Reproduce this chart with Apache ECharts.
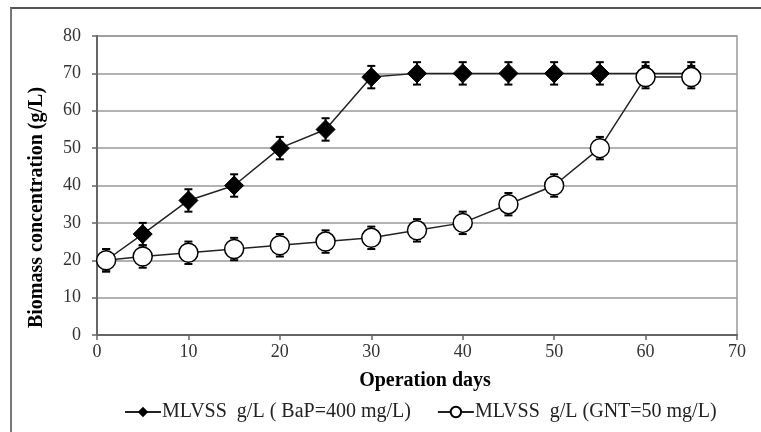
<!DOCTYPE html>
<html>
<head>
<meta charset="utf-8">
<script src="https://cdn.jsdelivr.net/npm/echarts@6/dist/echarts.min.js"></script>
<style>
  html, body { margin: 0; padding: 0; background: #fff; }
  #frame {
    position: absolute; left: 10px; top: 7px; width: 751px; height: 425px;
    border-top: 2px solid #555; border-left: 2px solid #777;
  }
  #chart { position: absolute; left: 0; top: 0; width: 761px; height: 432px; }
</style>
</head>
<body>
<div id="frame"></div>
<div id="chart"></div>
<script>
// operation days
const days = [1, 5, 10, 15, 20, 25, 30, 35, 40, 45, 50, 55, 60, 65];
// MLVSS g/L (BaP=400 mg/L)
const bapValues = [20, 27, 36, 40, 50, 55, 69, 70, 70, 70, 70, 70, 70, 70];
// MLVSS g/L (GNT=50 mg/L)
const gntValues = [20, 21, 22, 23, 24, 25, 26, 28, 30, 35, 40, 50, 69, 69];
// error bar half widths
const bapErr = [3, 3, 3, 3, 3, 3, 3, 3, 3, 3, 3, 3, 3, 3];
const gntErr = [3, 3, 3, 3, 3, 3, 3, 3, 3, 3, 3, 3, 3, 3];

const font = 'Liberation Serif, Times New Roman, serif';

function errData(vals, errs) {
  return days.map((d, i) => [d, vals[i] - errs[i], vals[i] + errs[i]]);
}

function errRender(params, api) {
  const x = api.value(0);
  const lo = api.coord([x, api.value(1)]);
  const hi = api.coord([x, api.value(2)]);
  const w = 4;
  const style = { stroke: '#000', lineWidth: 2 };
  return {
    type: 'group',
    children: [
      { type: 'line', shape: { x1: lo[0], y1: lo[1], x2: hi[0], y2: hi[1] }, style },
      { type: 'line', shape: { x1: lo[0] - w, y1: lo[1], x2: lo[0] + w, y2: lo[1] }, style },
      { type: 'line', shape: { x1: hi[0] - w, y1: hi[1], x2: hi[0] + w, y2: hi[1] }, style }
    ]
  };
}

const chart = echarts.init(document.getElementById('chart'));
chart.setOption({
  animation: false,
  textStyle: { fontFamily: font },
  grid: { left: 97, top: 36, right: 24, bottom: 97, show: true, borderColor: '#999', borderWidth: 1.5 },
  xAxis: {
    type: 'value', min: 0, max: 70, interval: 10,
    name: 'Operation days', nameLocation: 'middle', nameGap: 36,
    nameTextStyle: { fontFamily: font, fontSize: 20, fontWeight: 'bold', color: '#000', padding: [0, 0, 0, 16] },
    axisLine: { lineStyle: { color: '#666', width: 2 } },
    axisTick: { show: true, length: 5, lineStyle: { color: '#666', width: 1.5 } },
    axisLabel: { fontFamily: font, fontSize: 18, color: '#333', margin: 8 },
    splitLine: { show: false }
  },
  yAxis: {
    type: 'value', min: 0, max: 80, interval: 10,
    name: 'Biomass concentration (g/L)', nameLocation: 'middle', nameGap: 50,
    nameTextStyle: { fontFamily: font, fontSize: 20, fontWeight: 'bold', color: '#000', padding: [0, 44, 0, 0] },
    axisLine: { show: true, lineStyle: { color: '#666', width: 2 } },
    axisTick: { show: true, length: 5, lineStyle: { color: '#666', width: 1.5 } },
    axisLabel: { fontFamily: font, fontSize: 18, color: '#333', margin: 16 },
    splitLine: { lineStyle: { color: '#999', width: 1.5 } }
  },
  legend: {
    bottom: 5, left: 119, itemGap: 26, itemWidth: 36, itemHeight: 13,
    textStyle: { fontFamily: font, fontSize: 20, color: '#222', padding: [0, 0, 0, -4] },
    data: ['MLVSS  g/L ( BaP=400 mg/L)', 'MLVSS  g/L (GNT=50 mg/L)']
  },
  series: [
    {
      type: 'custom', renderItem: errRender, data: errData(bapValues, bapErr), z: 1, silent: true
    },
    {
      type: 'custom', renderItem: errRender, data: errData(gntValues, gntErr), z: 1, silent: true
    },
    {
      name: 'MLVSS  g/L ( BaP=400 mg/L)', type: 'line', z: 3,
      data: days.map((d, i) => [d, bapValues[i]]),
      symbol: 'diamond', symbolSize: 19,
      lineStyle: { color: '#222', width: 1.5 },
      itemStyle: { color: '#000', borderColor: '#000' }
    },
    {
      name: 'MLVSS  g/L (GNT=50 mg/L)', type: 'line', z: 4,
      data: days.map((d, i) => [d, gntValues[i]]),
      symbol: 'circle', symbolSize: 19,
      lineStyle: { color: '#222', width: 1.5 },
      itemStyle: { color: '#fff', borderColor: '#000', borderWidth: 1.5 }
    }
  ]
});
</script>
</body>
</html>
